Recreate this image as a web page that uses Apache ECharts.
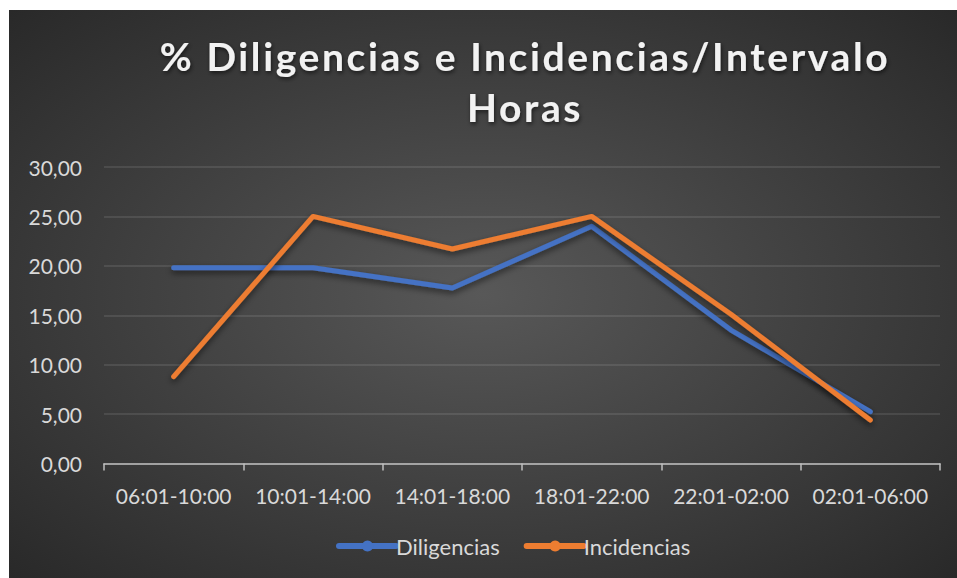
<!DOCTYPE html>
<html>
<head>
<meta charset="utf-8">
<script src="https://cdn.jsdelivr.net/npm/echarts@6/dist/echarts.min.js"></script>
<style>
html,body{margin:0;padding:0;background:#ffffff;width:957px;height:578px;overflow:hidden;}
#chart{position:absolute;left:9px;top:10px;width:948px;height:568px;}
#chart svg text[style*="39px"]{letter-spacing:2.6px;}
</style>
</head>
<body>
<div id="chart"></div>
<script>
var titleText = '% Diligencias e Incidencias/Intervalo\nHoras';
var categories = ['06:01-10:00','10:01-14:00','14:01-18:00','18:01-22:00','22:01-02:00','02:01-06:00'];
var diligencias = [19.8, 19.8, 17.75, 24.0, 13.5, 5.25];
var incidencias = [8.8, 25.0, 21.7, 25.0, 15.1, 4.4];
var seriesNames = ['Diligencias','Incidencias'];
var seriesColors = ['#4472C4','#ED7D31'];

var chart = echarts.init(document.getElementById('chart'), null, { renderer: 'svg' });
var textColor = '#d9d9d9';
var fontFam = 'Lato, "Noto Sans", sans-serif';
function mkSeries(name, data, color) {
  return {
    name: name, type: 'line', data: data,
    symbol: 'circle', symbolSize: 11, showSymbol: false,
    lineStyle: { width: 5, color: color, cap: 'round', join: 'round',
      shadowColor: 'rgba(0,0,0,0.55)', shadowBlur: 6, shadowOffsetY: 3 },
    itemStyle: { color: color },
    emphasis: { disabled: true }
  };
}
chart.setOption({
  animation: false,
  backgroundColor: {
    type: 'radial', x: 0.5, y: 0.5, r: 0.75,
    colorStops: [{ offset: 0, color: '#585858' }, { offset: 1, color: '#262626' }]
  },
  title: {
    text: titleText, left: 511, top: 15, textAlign: 'center',
    textStyle: { color: '#f2f2f2', fontSize: 39, fontWeight: 'bold', fontFamily: fontFam,
      lineHeight: 51, textShadowColor: 'rgba(0,0,0,0.6)', textShadowBlur: 4, textShadowOffsetX: 1, textShadowOffsetY: 2 }
  },
  legend: {
    data: seriesNames, bottom: 16, left: 322,
    itemWidth: 57, itemHeight: 14, itemGap: 24,
    lineStyle: { width: 6 },
    textStyle: { color: textColor, fontSize: 22, fontFamily: fontFam, padding: [0, 0, 0, -5] }
  },
  grid: { left: 95, right: 17, top: 157, bottom: 114.5, containLabel: false },
  xAxis: {
    type: 'category', data: categories, boundaryGap: true,
    axisLine: { show: true, lineStyle: { color: '#bfbfbf', width: 1.5 } },
    axisTick: { show: true, alignWithLabel: false, length: 7, lineStyle: { color: '#bfbfbf', width: 1.5 } },
    axisLabel: { color: textColor, fontSize: 21, fontFamily: fontFam, margin: 21, interval: 0 },
    splitLine: { show: false }
  },
  yAxis: {
    type: 'value', min: 0, max: 30, interval: 5,
    axisLine: { show: false }, axisTick: { show: false },
    axisLabel: { color: textColor, fontSize: 21, fontFamily: fontFam, margin: 22,
      formatter: function (v) { return v.toFixed(2).replace('.', ','); } },
    splitLine: { lineStyle: { color: 'rgba(255,255,255,0.13)', width: 1.5 } }
  },
  series: [
    mkSeries(seriesNames[0], diligencias, seriesColors[0]),
    mkSeries(seriesNames[1], incidencias, seriesColors[1])
  ]
});
</script>
</body>
</html>
